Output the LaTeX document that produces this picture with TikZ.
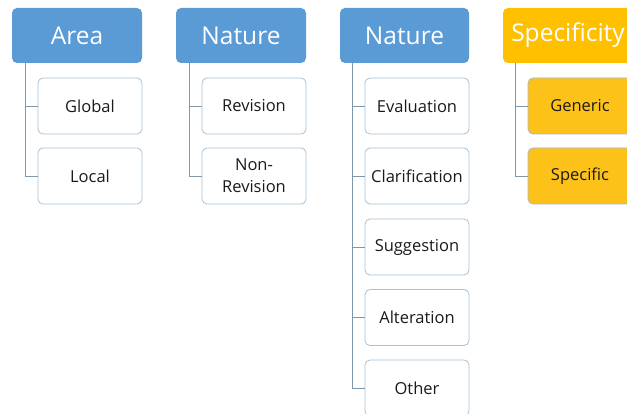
\documentclass[tikz,border=0pt]{standalone}
\usepackage{fontspec}
\setmainfont{Open Sans}
\definecolor{hblue}{HTML}{5B9BD5}
\definecolor{hgold}{HTML}{FFC000}
\definecolor{cfill}{HTML}{FDC21A}
\definecolor{cborder}{HTML}{A9C1D3}
\definecolor{lcol}{HTML}{8098AC}
\definecolor{txt}{HTML}{1A1A1A}
\begin{document}
\begin{tikzpicture}[x=1pt,y=-1pt,
  hdr/.style={rounded corners=5pt, minimum width=130pt, minimum height=55pt, inner sep=0pt,
    text=white, font=\fontsize{24.5}{26}\selectfont},
  bluehdr/.style={hdr, fill=hblue},
  goldhdr/.style={hdr, fill=hgold},
  child/.style={rounded corners=5pt, draw=cborder, line width=0.8pt, fill=white,
    minimum width=104pt, minimum height=56pt, inner sep=0pt, text=txt,
    font=\fontsize{16.5}{22}\selectfont, align=center},
  goldchild/.style={child, fill=cfill, draw=lcol!70},
  conn/.style={draw=lcol, line width=0.8pt}]
\useasboundingbox (0,0) rectangle (627,414);
\clip (0,0) rectangle (627,414);
\fill[white] (0,0) rectangle (627,414);

% headers
\node[bluehdr] (area) at (77,35.5) {Area};
\node[bluehdr] (nat1) at (241,35.5) {Nature};
\node[bluehdr, minimum width=129pt] (nat2) at (404.5,35.5) {Nature};
\node[goldhdr] (spec) at (568,35.5) {Specificity};

% connector start points
\coordinate (a0) at (25,63);
\coordinate (b0) at (189,63);
\coordinate (c0) at (352,63);
\coordinate (d0) at (515,63);

% children
\node[child] (global) at (90,106) {Global};
\node[child] (local) at (90,176) {Local};
\node[child] (rev) at (254,106) {Revision};
\node[child] (nonrev) at (254,176) {Non-\\Revision};
\node[child] (eval) at (417,106) {Evaluation};
\node[child] (clar) at (417,176) {Clarification};
\node[child] (sugg) at (417,247) {Suggestion};
\node[child] (alt) at (417,317.5) {Alteration};
\node[child] (other) at (417,388) {Other};
\node[goldchild] (gen) at (580,106) {Generic};
\node[goldchild] (spc) at (580,176) {Specific};

\draw[conn] (a0) |- (global.west);
\draw[conn] (a0) |- (local.west);
\draw[conn] (b0) |- (rev.west);
\draw[conn] (b0) |- (nonrev.west);
\draw[conn] (c0) |- (eval.west);
\draw[conn] (c0) |- (clar.west);
\draw[conn] (c0) |- (sugg.west);
\draw[conn] (c0) |- (alt.west);
\draw[conn] (c0) |- (other.west);
\draw[conn] (d0) |- (gen.west);
\draw[conn] (d0) |- (spc.west);
\end{tikzpicture}
\end{document}
